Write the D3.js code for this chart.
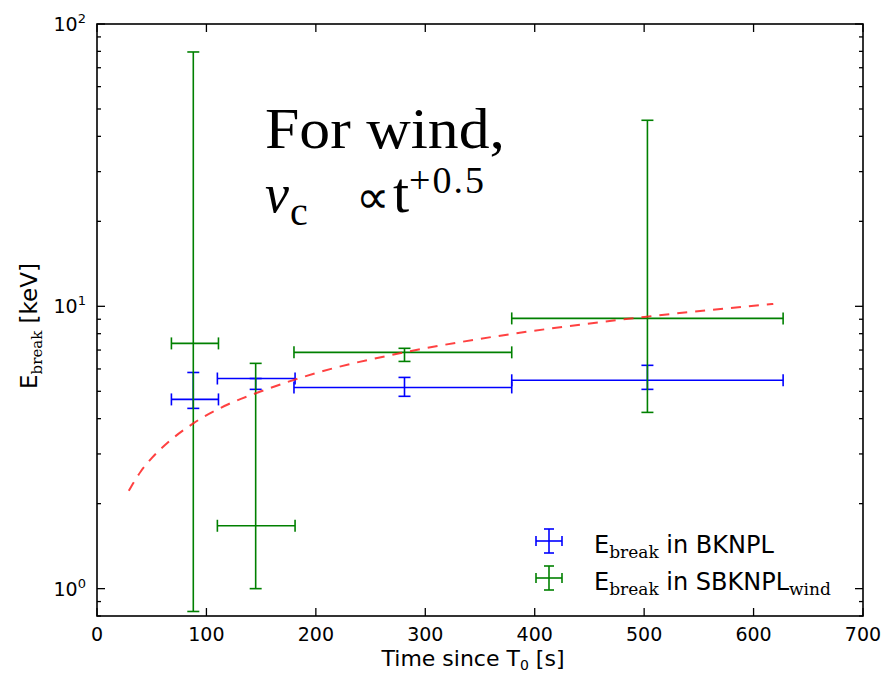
<!DOCTYPE html>
<html>
<head>
<meta charset="utf-8">
<script src="https://cdn.jsdelivr.net/npm/d3@7"></script>
<style>
body { margin: 0; background: #fff; }
text { font-family: "DejaVu Sans", sans-serif; fill: #000; }
.note { font-family: "Liberation Serif", serif; }
</style>
</head>
<body>
<svg id="chart" width="884" height="676"></svg>
<script>
// Ebreak in BKNPL (blue)
var bkTime = [88, 145, 281, 503];
var bkTimeLo = [68, 110, 180, 379];
var bkTimeHi = [111, 181, 379, 627];
var bkE = [4.68, 5.55, 5.16, 5.47];
var bkELo = [4.35, 5.08, 4.80, 5.08];
var bkEHi = [5.83, 5.55, 5.60, 6.18];

// Ebreak in SBKNPL_wind (green)
var sbTime = [88, 145, 281, 503];
var sbTimeLo = [68, 110, 180, 379];
var sbTimeHi = [111, 181, 379, 627];
var sbE = [7.39, 1.67, 6.87, 9.06];
var sbELo = [0.83, 1.0, 6.38, 4.21];
var sbEHi = [79.6, 6.28, 7.10, 45.6];

// red dashed model curve
var modelTime = [29, 35, 40, 50, 65, 88, 120, 150, 200, 280, 350, 430, 500, 618];
var modelE = [2.22, 2.43, 2.6, 2.9, 3.3, 3.85, 4.5, 5.0, 5.8, 6.86, 7.67, 8.5, 9.17, 10.2];

var xTicks = [0, 100, 200, 300, 400, 500, 600, 700];
var yMajor = [1, 10, 100];
var yExp = ["0", "1", "2"];

var PLOT_LEFT = 97, PLOT_RIGHT = 863, PLOT_TOP = 24, PLOT_BOTTOM = 616;
var CAP = 6;

var svg = d3.select("#chart");
var x = d3.scaleLinear().domain([0, 700]).range([PLOT_LEFT, PLOT_RIGHT]);
var y = d3.scaleLog().domain([0.8, 100]).range([PLOT_BOTTOM, PLOT_TOP]);

function makeRows(t, tlo, thi, e, elo, ehi) {
    return t.map(function(d, i) {
        return {t: d, tlo: tlo[i], thi: thi[i], e: e[i], elo: elo[i], ehi: ehi[i]};
    });
}

function drawErrorbars(rows, color) {
    var g = svg.append("g")
        .attr("stroke", color)
        .attr("stroke-width", 1.6)
        .attr("fill", "none");
    rows.forEach(function(d) {
        // horizontal bar + caps
        g.append("line")
            .attr("x1", x(d.tlo)).attr("x2", x(d.thi))
            .attr("y1", y(d.e)).attr("y2", y(d.e));
        [d.tlo, d.thi].forEach(function(v) {
            g.append("line")
                .attr("x1", x(v)).attr("x2", x(v))
                .attr("y1", y(d.e) - CAP).attr("y2", y(d.e) + CAP);
        });
        // vertical bar + caps
        g.append("line")
            .attr("x1", x(d.t)).attr("x2", x(d.t))
            .attr("y1", y(d.elo)).attr("y2", y(d.ehi));
        [d.elo, d.ehi].forEach(function(v) {
            g.append("line")
                .attr("x1", x(d.t) - CAP).attr("x2", x(d.t) + CAP)
                .attr("y1", y(v)).attr("y2", y(v));
        });
    });
}

drawErrorbars(makeRows(bkTime, bkTimeLo, bkTimeHi, bkE, bkELo, bkEHi), "#0000ff");
drawErrorbars(makeRows(sbTime, sbTimeLo, sbTimeHi, sbE, sbELo, sbEHi), "#008000");

// model curve
var line = d3.line()
    .x(function(d) { return x(d[0]); })
    .y(function(d) { return y(d[1]); })
    .curve(d3.curveMonotoneX);
svg.append("path")
    .datum(modelTime.map(function(t, i) { return [t, modelE[i]]; }))
    .attr("d", line)
    .attr("fill", "none")
    .attr("stroke", "#ff2020")
    .attr("stroke-opacity", 0.85)
    .attr("stroke-width", 2)
    .attr("stroke-dasharray", "10,8");

// frame
svg.append("rect")
    .attr("x", PLOT_LEFT).attr("y", PLOT_TOP)
    .attr("width", PLOT_RIGHT - PLOT_LEFT).attr("height", PLOT_BOTTOM - PLOT_TOP)
    .attr("fill", "none").attr("stroke", "#000").attr("stroke-width", 1.6);

// x ticks (inside, bottom and top)
var ticks = svg.append("g").attr("stroke", "#000").attr("stroke-width", 1.3);
xTicks.forEach(function(v) {
    ticks.append("line").attr("x1", x(v)).attr("x2", x(v))
        .attr("y1", PLOT_BOTTOM).attr("y2", PLOT_BOTTOM - 8);
    ticks.append("line").attr("x1", x(v)).attr("x2", x(v))
        .attr("y1", PLOT_TOP).attr("y2", PLOT_TOP + 8);
});
svg.append("g").selectAll("text")
    .data(xTicks)
    .join("text")
    .attr("x", function(d) { return x(d); })
    .attr("y", PLOT_BOTTOM + 25)
    .attr("text-anchor", "middle")
    .attr("font-size", 19)
    .text(function(d) { return d; });

// y ticks (log, major + minor, inside, left and right)
var minor = [];
[0.1, 1, 10].forEach(function(dec) {
    for (var k = 2; k <= 9; k++) {
        var v = dec * k;
        if (v >= 0.8 && v <= 100) minor.push(v);
    }
});
yMajor.forEach(function(v) {
    ticks.append("line").attr("x1", PLOT_LEFT).attr("x2", PLOT_LEFT + 8)
        .attr("y1", y(v)).attr("y2", y(v));
    ticks.append("line").attr("x1", PLOT_RIGHT).attr("x2", PLOT_RIGHT - 8)
        .attr("y1", y(v)).attr("y2", y(v));
});
minor.forEach(function(v) {
    ticks.append("line").attr("x1", PLOT_LEFT).attr("x2", PLOT_LEFT + 4)
        .attr("y1", y(v)).attr("y2", y(v));
    ticks.append("line").attr("x1", PLOT_RIGHT).attr("x2", PLOT_RIGHT - 4)
        .attr("y1", y(v)).attr("y2", y(v));
});
var yLab = svg.append("g").selectAll("text")
    .data(yMajor)
    .join("text")
    .attr("x", PLOT_LEFT - 11)
    .attr("y", function(d) { return y(d) + 7; })
    .attr("text-anchor", "end")
    .attr("font-size", 19);
yLab.append("tspan").text("10");
yLab.append("tspan")
    .attr("font-size", 13)
    .attr("dy", -8)
    .text(function(d, i) { return yExp[i]; });

// axis labels
var xl = svg.append("text")
    .attr("x", 473).attr("y", 666)
    .attr("text-anchor", "middle")
    .attr("font-size", 22);
xl.append("tspan").text("Time since T");
xl.append("tspan").attr("font-size", 14).attr("dy", 4).text("0");
xl.append("tspan").attr("dy", -4).text(" [s]");

var yl = svg.append("text")
    .attr("transform", "translate(37,326) rotate(-90)")
    .attr("text-anchor", "middle")
    .attr("font-size", 23);
yl.append("tspan").text("E");
yl.append("tspan").attr("font-family", "DejaVu Serif, serif")
    .attr("font-size", 15).attr("dy", 5).text("break");
yl.append("tspan").attr("dy", -5).text(" [keV]");

// legend
var legendItems = [
    {color: "#0000ff", rest: " in BKNPL", sub: null},
    {color: "#008000", rest: " in SBKNPL", sub: "wind"}
];
var legend = svg.append("g");
legendItems.forEach(function(d, i) {
    var cy = 541 + i * 37, cx = 549;
    var g = legend.append("g").attr("stroke", d.color).attr("stroke-width", 1.6);
    g.append("line").attr("x1", cx - 13).attr("x2", cx + 13).attr("y1", cy).attr("y2", cy);
    g.append("line").attr("x1", cx).attr("x2", cx).attr("y1", cy - 12).attr("y2", cy + 12);
    [cx - 13, cx + 13].forEach(function(v) {
        g.append("line").attr("x1", v).attr("x2", v).attr("y1", cy - 5).attr("y2", cy + 5);
    });
    [cy - 12, cy + 12].forEach(function(v) {
        g.append("line").attr("x1", cx - 5).attr("x2", cx + 5).attr("y1", v).attr("y2", v);
    });
    var t = legend.append("text")
        .attr("x", 594).attr("y", cy + 12)
        .attr("font-size", 24);
    t.append("tspan").text("E");
    t.append("tspan").attr("font-family", "DejaVu Serif, serif")
        .attr("font-size", 17).attr("dy", 5).text("break");
    t.append("tspan").attr("dy", -5).text(d.rest);
    if (d.sub) {
        t.append("tspan").attr("font-family", "DejaVu Serif, serif")
            .attr("font-size", 17).attr("dy", 5).text(d.sub);
    }
});

// annotation
svg.append("text").attr("class", "note")
    .attr("x", 265).attr("y", 148)
    .attr("font-size", 56)
    .attr("textLength", 240)
    .attr("lengthAdjust", "spacingAndGlyphs")
    .text("For wind,");
svg.append("text").attr("class", "note")
    .attr("x", 265).attr("y", 212)
    .attr("font-size", 54).attr("font-style", "italic")
    .text("\u03bd");
svg.append("text").attr("class", "note")
    .attr("x", 290).attr("y", 225)
    .attr("font-size", 40)
    .text("c");
svg.append("text")
    .attr("x", 356).attr("y", 213)
    .attr("font-size", 47)
    .text("\u221d");
svg.append("text").attr("class", "note")
    .attr("x", 393).attr("y", 212)
    .attr("font-size", 58)
    .text("t");
svg.append("text").attr("class", "note")
    .attr("x", 409).attr("y", 193)
    .attr("font-size", 38)
    .attr("letter-spacing", 2)
    .text("+0.5");
</script>
</body>
</html>
